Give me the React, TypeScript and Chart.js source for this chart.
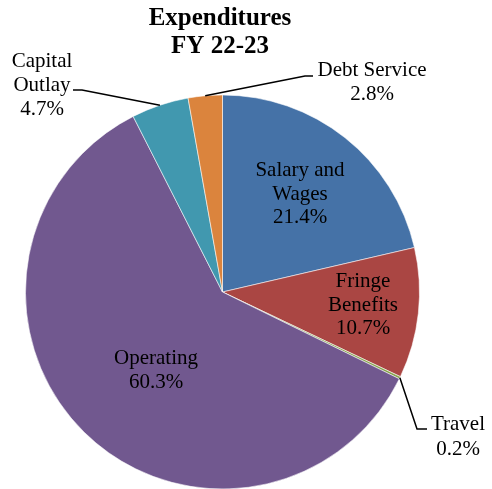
import React, { useEffect, useRef } from "react";
import { Chart, registerables } from "chart.js";

Chart.register(...registerables);

const titleLines = ["Expenditures", "FY 22-23"];
const categories = ["Salary and Wages", "Fringe Benefits", "Travel", "Operating", "Capital Outlay", "Debt Service"];
const values = [21.4, 10.7, 0.2, 60.3, 4.7, 2.8];
const colors = ["#4572A7", "#AA4643", "#89A54E", "#71588F", "#4198AF", "#DB843D"];
const labelLines = [
  ["Salary and", "Wages", "21.4%"],
  ["Fringe", "Benefits", "10.7%"],
  ["Travel", "0.2%"],
  ["Operating", "60.3%"],
  ["Capital", "Outlay", "4.7%"],
  ["Debt Service", "2.8%"],
];

// label layout: center x, first baseline y, line height, optional leader (elbow x,y, end x,y)
const labelLayout: any[] = [
  { x: 300, y: 176, lh: 23.5 },
  { x: 363, y: 287, lh: 23.5 },
  { x: 458, y: 430, lh: 24.5, leader: [417, 429, 427, 429] },
  { x: 156, y: 364, lh: 24 },
  { x: 42, y: 67, lh: 24, leader: [82, 90, 73, 90] },
  { x: 372, y: 76, lh: 24, leader: [305, 76, 313, 76] },
];

const FONT = "'Liberation Serif', Tinos, 'Times New Roman', 'DejaVu Serif', serif";

const labelPlugin = {
  id: "customLabels",
  afterDatasetsDraw(chart: any) {
    const ctx = chart.ctx;
    ctx.save();
    ctx.fillStyle = "#000";
    ctx.textAlign = "center";
    ctx.textBaseline = "alphabetic";
    ctx.font = `bold 25px ${FONT}`;
    ctx.fillText(titleLines[0], 220, 25);
    ctx.fillText(titleLines[1], 220, 53);

    const meta = chart.getDatasetMeta(0);
    ctx.font = `21px ${FONT}`;
    labelLines.forEach((lines, i) => {
      const lay = labelLayout[i];
      if (lay.leader) {
        const arc = meta.data[i];
        const mid = (arc.startAngle + arc.endAngle) / 2;
        const ax = arc.x + Math.cos(mid) * arc.outerRadius;
        const ay = arc.y + Math.sin(mid) * arc.outerRadius;
        ctx.beginPath();
        ctx.strokeStyle = "#000";
        ctx.lineWidth = 1.5;
        ctx.moveTo(ax, ay);
        ctx.lineTo(lay.leader[0], lay.leader[1]);
        ctx.lineTo(lay.leader[2], lay.leader[3]);
        ctx.stroke();
      }
      lines.forEach((t: string, j: number) => {
        ctx.fillText(t, lay.x, lay.y + j * lay.lh);
      });
    });
    ctx.restore();
  },
};

export default function App() {
  const ref = useRef<HTMLCanvasElement>(null);
  useEffect(() => {
    let chart: any = null;
    let cancelled = false;
    const make = () => {
      if (cancelled) return;
      chart = new Chart(ref.current!, {
        type: "pie",
        data: {
          labels: categories,
          datasets: [
            {
              data: values,
              backgroundColor: colors,
              borderColor: "rgba(255,255,255,0.55)",
              borderWidth: 1,
              clip: false,
            } as any,
          ],
        },
        options: {
          responsive: false,
          animation: false,
          radius: 197,
          layout: { padding: { left: 25, right: 72, top: 95, bottom: 0 } },
          plugins: {
            legend: { display: false },
            title: { display: false },
            tooltip: { enabled: false },
          },
        } as any,
        plugins: [labelPlugin],
      });
    };
    const fonts: any = (document as any).fonts;
    if (fonts && fonts.load) {
      Promise.all([
        fonts.load(`21px ${FONT}`),
        fonts.load(`bold 25px ${FONT}`),
      ]).then(make, make);
    } else {
      make();
    }
    return () => {
      cancelled = true;
      if (chart) chart.destroy();
    };
  }, []);
  return (
    <div style={{ position: "fixed", left: 0, top: 0, width: 492, height: 489, background: "#fff", fontFamily: FONT }}>
      <canvas ref={ref} width={492} height={489} />
    </div>
  );
}
